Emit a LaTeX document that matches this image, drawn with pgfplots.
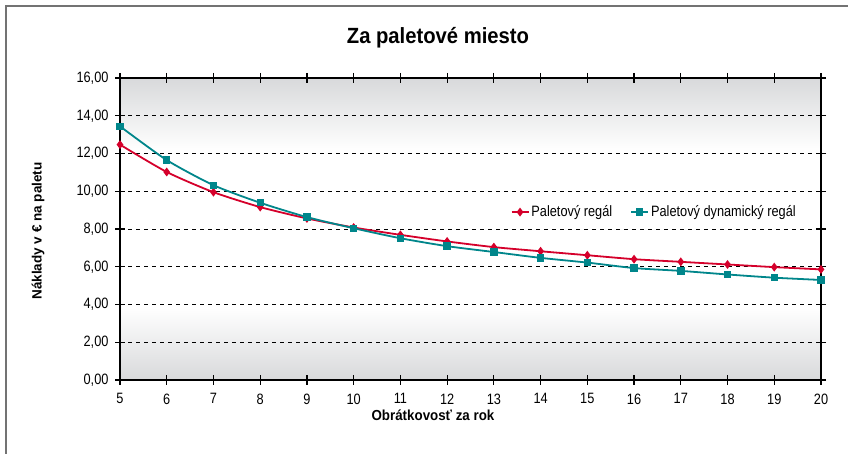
\documentclass[border=0pt]{standalone}
\usepackage{pgfplots}
\pgfplotsset{compat=1.18}
\usepackage{fontspec}
\setmainfont{Liberation Sans}[FakeStretch=0.85]
\newfontfamily\titlefont{Liberation Sans}[FakeStretch=0.92]
\newfontfamily\ylabfont{Liberation Sans}
\definecolor{redline}{HTML}{D5002B}
\definecolor{tealline}{HTML}{00868B}
\definecolor{bggray}{HTML}{D8D9DB}
\pgfdeclareverticalshading{plotbg}{100bp}{color(0bp)=(bggray); color(25bp)=(bggray); color(37bp)=(white); color(63bp)=(white); color(75bp)=(bggray); color(100bp)=(bggray)}

\pgfplotstableread{
x red teal
5 12.47 13.44
6 11.02 11.65
7 9.95 10.32
8 9.16 9.39
9 8.56 8.63
10 8.08 8.04
11 7.69 7.51
12 7.34 7.09
13 7.04 6.78
14 6.82 6.47
15 6.61 6.22
16 6.40 5.93
17 6.26 5.78
18 6.12 5.59
19 5.98 5.42
20 5.86 5.30
}\datatable

\begin{document}
\begin{tikzpicture}[x=1pt,y=1pt]
\useasboundingbox (0,0) rectangle (848,454);
\fill[white] (0,0) rectangle (848,454);
\draw[color=black!55, line width=1.6pt] (6,-5) -- (6,448) -- (860,448);
\begin{axis}[
  at={(120pt,74pt)}, anchor=south west,
  scale only axis, width=701pt, height=302pt,
  xmin=5, xmax=20, ymin=0, ymax=16,
  xtick={5,...,20}, ytick={0,2,...,16},
  ymajorgrids,
  grid style={black, dash pattern=on 4pt off 4pt, line width=0.9pt},
  axis line style={black, line width=1.2pt},
  tick align=center, major tick length=10pt,
  tick style={black, line width=1.2pt},
  axis background/.style={shading=plotbg},
  /pgf/number format/assume math mode=true,
  tick label style={font=\fontsize{15}{18}\selectfont},
  xticklabel style={yshift=-5pt},
  yticklabel style={xshift=-3pt, /pgf/number format/.cd, fixed, fixed zerofill, precision=2, use comma},
  legend style={at={(0.762,0.556)}, anchor=center, draw=none, fill=none,
    font=\fontsize{15}{18}\selectfont, legend columns=2,
    /tikz/every even column/.append style={column sep=16pt}},
]
\addplot[redline, line width=1.8pt, smooth, tension=0.4, mark=diamond*, mark size=3pt,
  mark options={solid, fill=redline}] table[x=x, y=red] {\datatable};
\addlegendentry{Paletový regál}
\addplot[tealline, line width=1.8pt, smooth, tension=0.4, mark=square*, mark size=2.8pt,
  mark options={solid, fill=tealline}] table[x=x, y=teal] {\datatable};
\addlegendentry{Paletový dynamický regál}
\end{axis}
\node[anchor=base, font=\titlefont\bfseries\fontsize{22}{26}\selectfont] at (438,410) {Za paletové miesto};
\node[anchor=base, font=\titlefont\bfseries\fontsize{14.5}{17}\selectfont] at (433,33) {Obrátkovosť za rok};
\node[anchor=base, rotate=90, font=\ylabfont\bfseries\fontsize{13.5}{16}\selectfont] at (41.7,223) {Náklady v € na paletu};
\end{tikzpicture}
\end{document}
